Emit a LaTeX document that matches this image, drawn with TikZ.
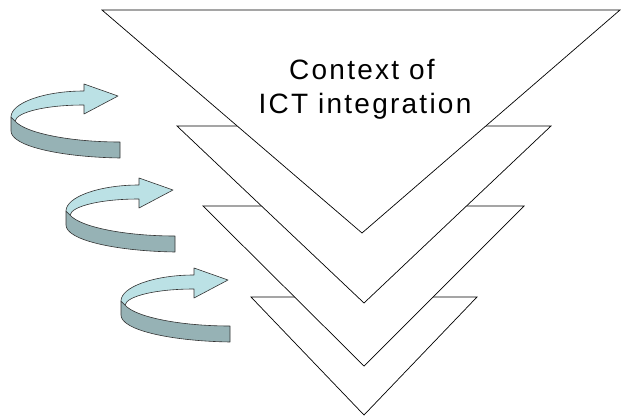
\documentclass[tikz,border=0pt]{standalone}
\usepackage{fontspec}
\newfontfamily\labelfont{Liberation Sans}[LetterSpace=8]
\definecolor{ribbontop}{RGB}{187,225,229}
\definecolor{ribbonside}{RGB}{150,178,181}
\tikzset{
  layer/.style={draw=black, fill=white, line width=0.7pt, line join=miter},
  ribbonface/.style={draw=black!80, fill=ribbontop, line width=0.6pt, line join=round},
  ribbonband/.style={draw=black!80, fill=ribbonside, line width=0.6pt, line join=round},
  caption/.style={font=\labelfont\fontsize{28}{34}\selectfont, inner sep=0pt, anchor=base}
}
\begin{document}
\begin{tikzpicture}[x=1pt, y=-1pt]
  \useasboundingbox (0,0) rectangle (622,416);

  % stacked chevron layers, back to front
  \draw[layer] (251,297) -- (477,297) -- (364,415) -- cycle;
  \draw[layer] (203,206) -- (524,206) -- (364,366) -- cycle;
  \draw[layer] (177,126) -- (551,126) -- (364,303) -- cycle;
  \draw[layer] (102,10) -- (620,10) -- (362,233) -- cycle;

  \node[caption] (ctx1) at (362,79) {Context of};
  \node[caption] (ctx2) at (365,113) {ICT integration};

  % curved feedback arrows
  \foreach \dx/\dy in {0/0, 55/94, 110/184} {
    \begin{scope}[shift={(\dx,\dy)}]
      \draw[ribbonband] (11,117) -- (11,131)
        .. controls (11,146) and (60,157) .. (120,158)
        -- (120,142)
        .. controls (70,142) and (25,133) .. (15,121) -- cycle;
      \draw[ribbonface] (11,117)
        .. controls (11,103) and (44,91) .. (84,91)
        -- (84,84) -- (118,96) -- (84,114) -- (84,105)
        .. controls (46,105) and (17,112) .. (15,121) -- cycle;
    \end{scope}
  }
\end{tikzpicture}
\end{document}
